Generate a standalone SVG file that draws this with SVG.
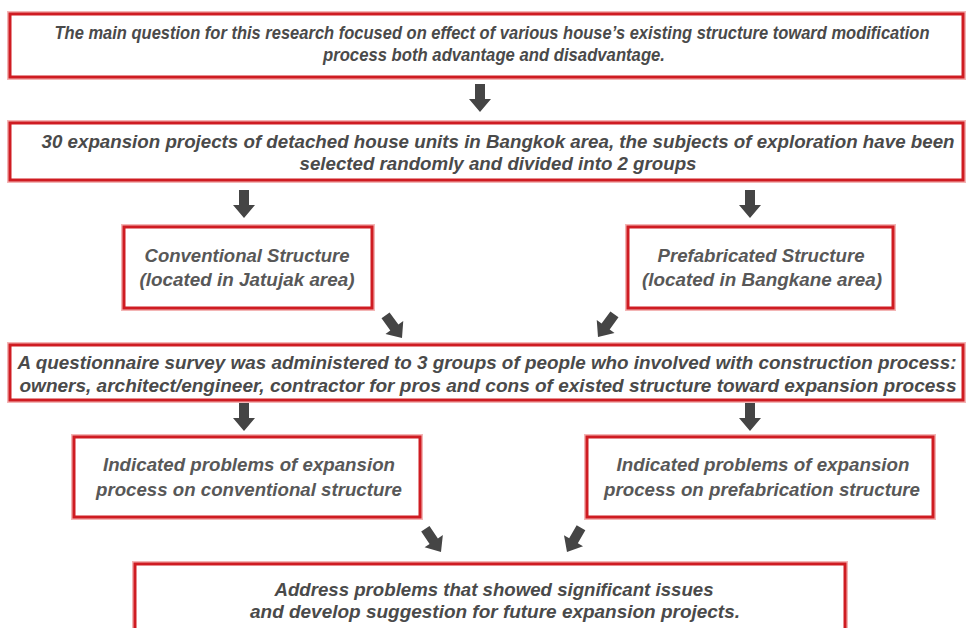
<svg xmlns="http://www.w3.org/2000/svg" xmlns:xlink="http://www.w3.org/1999/xlink" width="967" height="628" viewBox="0 0 967 628">
<style>
.box{fill:#ffffff;stroke:#cf1c22;stroke-width:3}
.glow{fill:none;stroke:#f3b5b5;stroke-width:6}
.c{font-family:"Liberation Sans",Arial,sans-serif;font-style:italic;font-weight:bold;font-size:19px;fill:#4a4a4a;text-anchor:middle}
.b{font-family:"Liberation Sans",Arial,sans-serif;font-style:italic;font-weight:bold;font-size:17.5px;fill:#585858;text-anchor:middle}
.arr{fill:#454545}
</style>
<defs>
<polygon id="ar" class="arr" points="-5,-28 5,-28 5,-13 11,-13 0,0 -11,-13 -5,-13"/>
</defs>
<rect width="967" height="628" fill="#ffffff"/>
<g id="connectors">
<use xlink:href="#ar" transform="translate(480,112)"/>
<use xlink:href="#ar" transform="translate(244,218)"/>
<use xlink:href="#ar" transform="translate(750,218)"/>
<use xlink:href="#ar" transform="translate(402,338) rotate(-36)"/>
<use xlink:href="#ar" transform="translate(598,337) rotate(36)"/>
<use xlink:href="#ar" transform="translate(244,431)"/>
<use xlink:href="#ar" transform="translate(750,431)"/>
<use xlink:href="#ar" transform="translate(441,552) rotate(-34)"/>
<use xlink:href="#ar" transform="translate(567,552) rotate(30)"/>
</g>
<g id="n1">
<rect class="glow" x="10" y="14" width="953" height="63"/>
<rect class="box" x="10" y="14" width="953" height="63"/>
<text class="c" x="492" y="39" textLength="875" lengthAdjust="spacingAndGlyphs">The main question for this research focused on effect of various house’s existing structure toward modification</text>
<text class="c" x="494" y="61" textLength="342" lengthAdjust="spacingAndGlyphs">process both advantage and disadvantage.</text>
</g>
<g id="n2">
<rect class="glow" x="10" y="123" width="953" height="57"/>
<rect class="box" x="10" y="123" width="953" height="57"/>
<text class="c" x="498" y="148" textLength="913" lengthAdjust="spacingAndGlyphs">30 expansion projects of detached house units in Bangkok area, the subjects of exploration have been</text>
<text class="c" x="498" y="170" textLength="397" lengthAdjust="spacingAndGlyphs">selected randomly and divided into 2 groups</text>
</g>
<g id="n3">
<rect class="glow" x="124" y="227" width="248" height="81"/>
<rect class="box" x="124" y="227" width="248" height="81"/>
<text class="b" x="247" y="262" textLength="205" lengthAdjust="spacingAndGlyphs">Conventional Structure</text>
<text class="b" x="247" y="286" textLength="215" lengthAdjust="spacingAndGlyphs">(located in Jatujak area)</text>
</g>
<g id="n4">
<rect class="glow" x="628" y="227" width="265" height="81"/>
<rect class="box" x="628" y="227" width="265" height="81"/>
<text class="b" x="761" y="262" textLength="207" lengthAdjust="spacingAndGlyphs">Prefabricated Structure</text>
<text class="b" x="762" y="286" textLength="240" lengthAdjust="spacingAndGlyphs">(located in Bangkane area)</text>
</g>
<g id="n5">
<rect class="glow" x="10" y="345" width="953" height="55"/>
<rect class="box" x="10" y="345" width="953" height="55"/>
<text class="c" x="487" y="369" textLength="939" lengthAdjust="spacingAndGlyphs">A questionnaire survey was administered to 3 groups of people who involved with construction process:</text>
<text class="c" x="488" y="392" textLength="937" lengthAdjust="spacingAndGlyphs">owners, architect/engineer, contractor for pros and cons of existed structure toward expansion process</text>
</g>
<g id="n6">
<rect class="glow" x="74" y="437" width="346" height="80"/>
<rect class="box" x="74" y="437" width="346" height="80"/>
<text class="b" x="249" y="471" textLength="292" lengthAdjust="spacingAndGlyphs">Indicated problems of expansion</text>
<text class="b" x="249" y="496" textLength="306" lengthAdjust="spacingAndGlyphs">process on conventional structure</text>
</g>
<g id="n7">
<rect class="glow" x="587" y="437" width="346" height="80"/>
<rect class="box" x="587" y="437" width="346" height="80"/>
<text class="b" x="763" y="471" textLength="293" lengthAdjust="spacingAndGlyphs">Indicated problems of expansion</text>
<text class="b" x="762" y="496" textLength="316" lengthAdjust="spacingAndGlyphs">process on prefabrication structure</text>
</g>
<g id="n8">
<rect class="glow" x="135" y="564" width="710" height="80"/>
<rect class="box" x="135" y="564" width="710" height="80"/>
<text class="c" x="494" y="596" textLength="439" lengthAdjust="spacingAndGlyphs">Address problems that showed significant issues</text>
<text class="c" x="495" y="618" textLength="490" lengthAdjust="spacingAndGlyphs">and develop suggestion for future expansion projects.</text>
</g>
</svg>
